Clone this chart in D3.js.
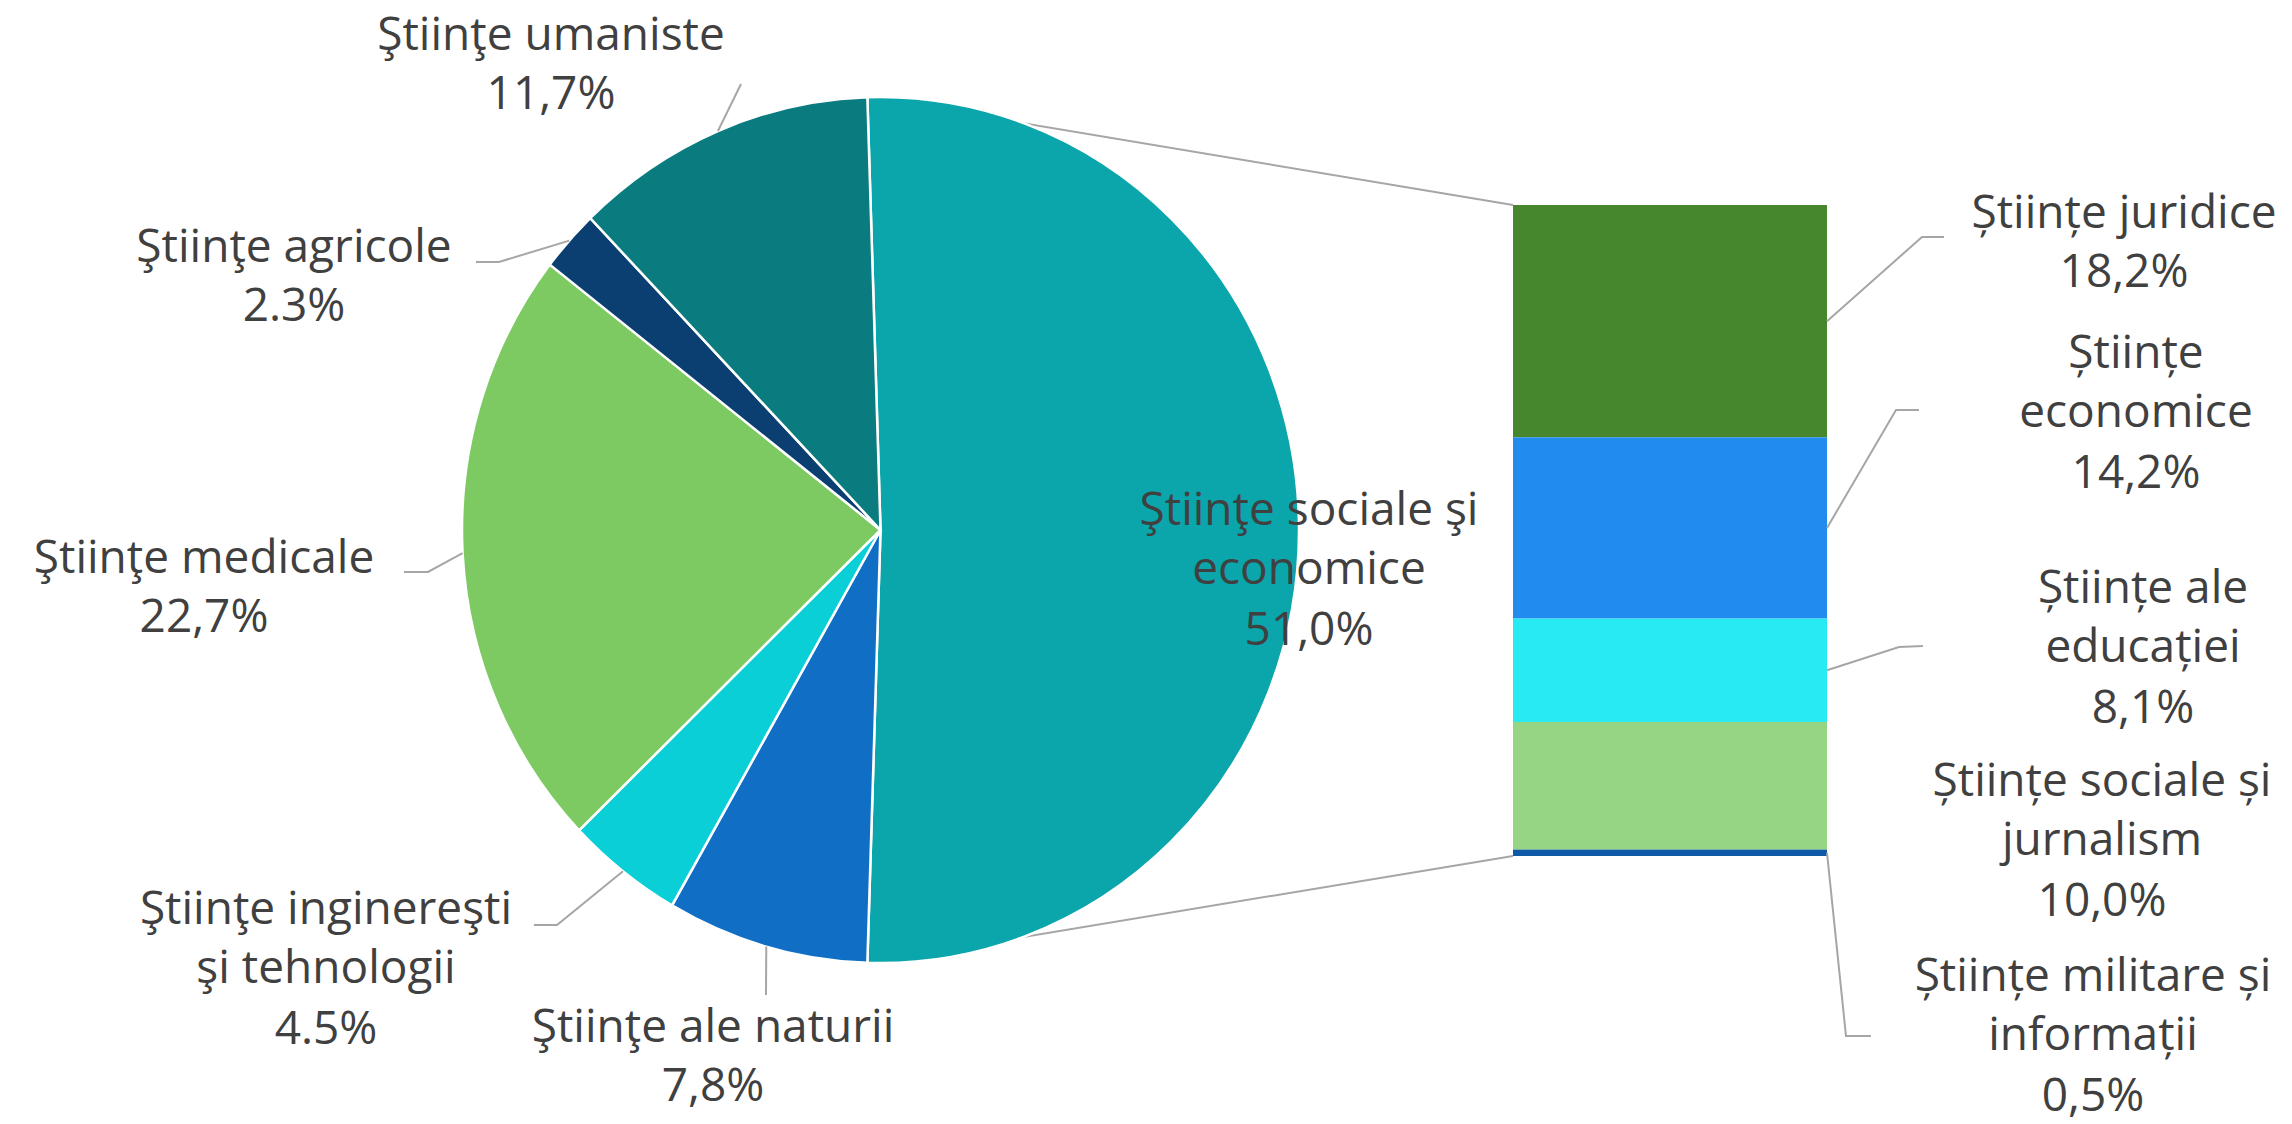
<!DOCTYPE html>
<html>
<head>
<meta charset="utf-8">
<script src="https://cdn.jsdelivr.net/npm/d3@7"></script>
<style>
  html, body { margin: 0; padding: 0; background: #fff; }
  svg { display: block; }
  .lbl { font-family: "Open Sans", sans-serif; font-size: 46px; fill: #404040; }
  .leader { fill: none; stroke: #a6a6a6; stroke-width: 2; }
</style>
</head>
<body>
<svg id="chart"></svg>
<script>
// pie slices, clockwise starting with the split-off slice
const pieNames = [
    ["Ştiinţe sociale şi", "economice"],
    ["Ştiinţe ale naturii"],
    ["Ştiinţe inginereşti", "şi tehnologii"],
    ["Ştiinţe medicale"],
    ["Ştiinţe agricole"],
    ["Ştiinţe umaniste"]
];
const pieValues = [51.0, 7.8, 4.5, 22.7, 2.3, 11.7];
const pieSep = [",", ",", ".", ",", ".", ","];
const pieColors = ["#0ba6ab", "#106fc5", "#0bcfd6", "#7dca63", "#0b3f72", "#0a7c7f"];

// bar of pie (breakdown of the first slice), top to bottom
const barNames = [
    ["Științe juridice"],
    ["Științe", "economice"],
    ["Științe ale", "educației"],
    ["Științe sociale și", "jurnalism"],
    ["Științe militare și", "informații"]
];
const barValues = [18.2, 14.2, 8.1, 10.0, 0.5];
const barSep = [",", ",", ",", ",", ","];
const barColors = ["#46862d", "#228bee", "#28eaf2", "#96d584", "#0e5aa6"];

const width = 2292, height = 1124;
const svg = d3.select('#chart').attr('width', width).attr('height', height);

// Pie geometry (picture is a bit squeezed horizontally)
const cx = 880.5, cy = 530, r = 433, sx = 0.9665;
const total = d3.sum(pieValues);
const start = Math.PI / 2 - (pieValues[0] / total) * Math.PI;

const pie = d3.pie().sort(null).value(d => d)
    .startAngle(start).endAngle(start + 2 * Math.PI);
const arcs = pie(pieValues);
const arc = d3.arc().innerRadius(0).outerRadius(r);

// point on the (squeezed) pie edge
function edge(a) {
    return [cx + sx * r * Math.sin(a), cy - r * Math.cos(a)];
}

// Bar geometry
const barX = 1513, barW = 314;
const y = d3.scaleLinear().domain([0, d3.sum(barValues)]).range([205, 856]);
const cum = d3.cumsum([0].concat(barValues));

// Series lines between pie and bar
const pTop = edge(arcs[0].startAngle);
const pBot = edge(arcs[0].endAngle);
svg.append('line').attr('class', 'leader').attr('stroke-width', 2.5)
    .attr('x1', pTop[0]).attr('y1', pTop[1]).attr('x2', barX).attr('y2', y(0));
svg.append('line').attr('class', 'leader').attr('stroke-width', 2.5)
    .attr('x1', pBot[0]).attr('y1', pBot[1]).attr('x2', barX).attr('y2', y(cum[cum.length - 1]));

// Pie
svg.append('g')
    .attr('transform', `translate(${cx},${cy}) scale(${sx},1)`)
    .selectAll('path')
    .data(arcs)
    .join('path')
    .attr('d', arc)
    .attr('fill', (d, i) => pieColors[i])
    .attr('stroke', '#fff')
    .attr('stroke-width', 2.5)
    .attr('vector-effect', 'non-scaling-stroke');

// Bar
svg.append('g')
    .selectAll('rect')
    .data(barValues)
    .join('rect')
    .attr('x', barX)
    .attr('width', barW)
    .attr('y', (d, i) => y(cum[i]))
    .attr('height', (d, i) => y(cum[i + 1]) - y(cum[i]))
    .attr('fill', (d, i) => barColors[i]);

// Label layout: centre x, first baseline, leader points (label side)
const pieLayout = [
    { x: 1309, y: 525, lead: null },
    { x: 713, y: 1042, lead: [[766, 995]] },
    { x: 326, y: 924, lead: [[534, 925], [557, 925]] },
    { x: 204, y: 573, lead: [[404, 572], [428, 572]] },
    { x: 294, y: 262, lead: [[476, 262], [499, 262]] },
    { x: 551, y: 50, lead: [[741, 84]] }
];
const barLayout = [
    { x: 2124, y: 228, lead: [[1944, 237], [1922, 237]] },
    { x: 2136, y: 368, lead: [[1919, 410], [1896, 410]] },
    { x: 2143, y: 603, lead: [[1923, 646], [1899, 647]] },
    { x: 2102, y: 796, lead: null },
    { x: 2093, y: 991, lead: [[1871, 1036], [1846, 1036]] }
];

const fmt = d3.format('.1f');
const line = d3.line();

function drawLabel(names, value, sep, pos, anchor) {
    const g = svg.append('g');
    if (pos.lead) {
        g.append('path').attr('class', 'leader')
            .attr('d', line(pos.lead.concat([anchor])));
    }
    const t = g.append('text').attr('class', 'lbl').attr('text-anchor', 'middle');
    names.forEach((n, k) => {
        t.append('tspan').attr('x', pos.x).attr('y', pos.y + k * 59).text(n);
    });
    const gap = names.length > 1 ? 61 : 59;
    t.append('tspan').attr('x', pos.x)
        .attr('y', pos.y + (names.length - 1) * 59 + gap)
        .text(fmt(value).replace('.', sep) + '%');
}

arcs.forEach((a, i) => {
    drawLabel(pieNames[i], pieValues[i], pieSep[i], pieLayout[i], edge((a.startAngle + a.endAngle) / 2));
});
barValues.forEach((v, i) => {
    const mid = (y(cum[i]) + y(cum[i + 1])) / 2;
    drawLabel(barNames[i], v, barSep[i], barLayout[i], [barX + barW, mid]);
});
</script>
</body>
</html>
